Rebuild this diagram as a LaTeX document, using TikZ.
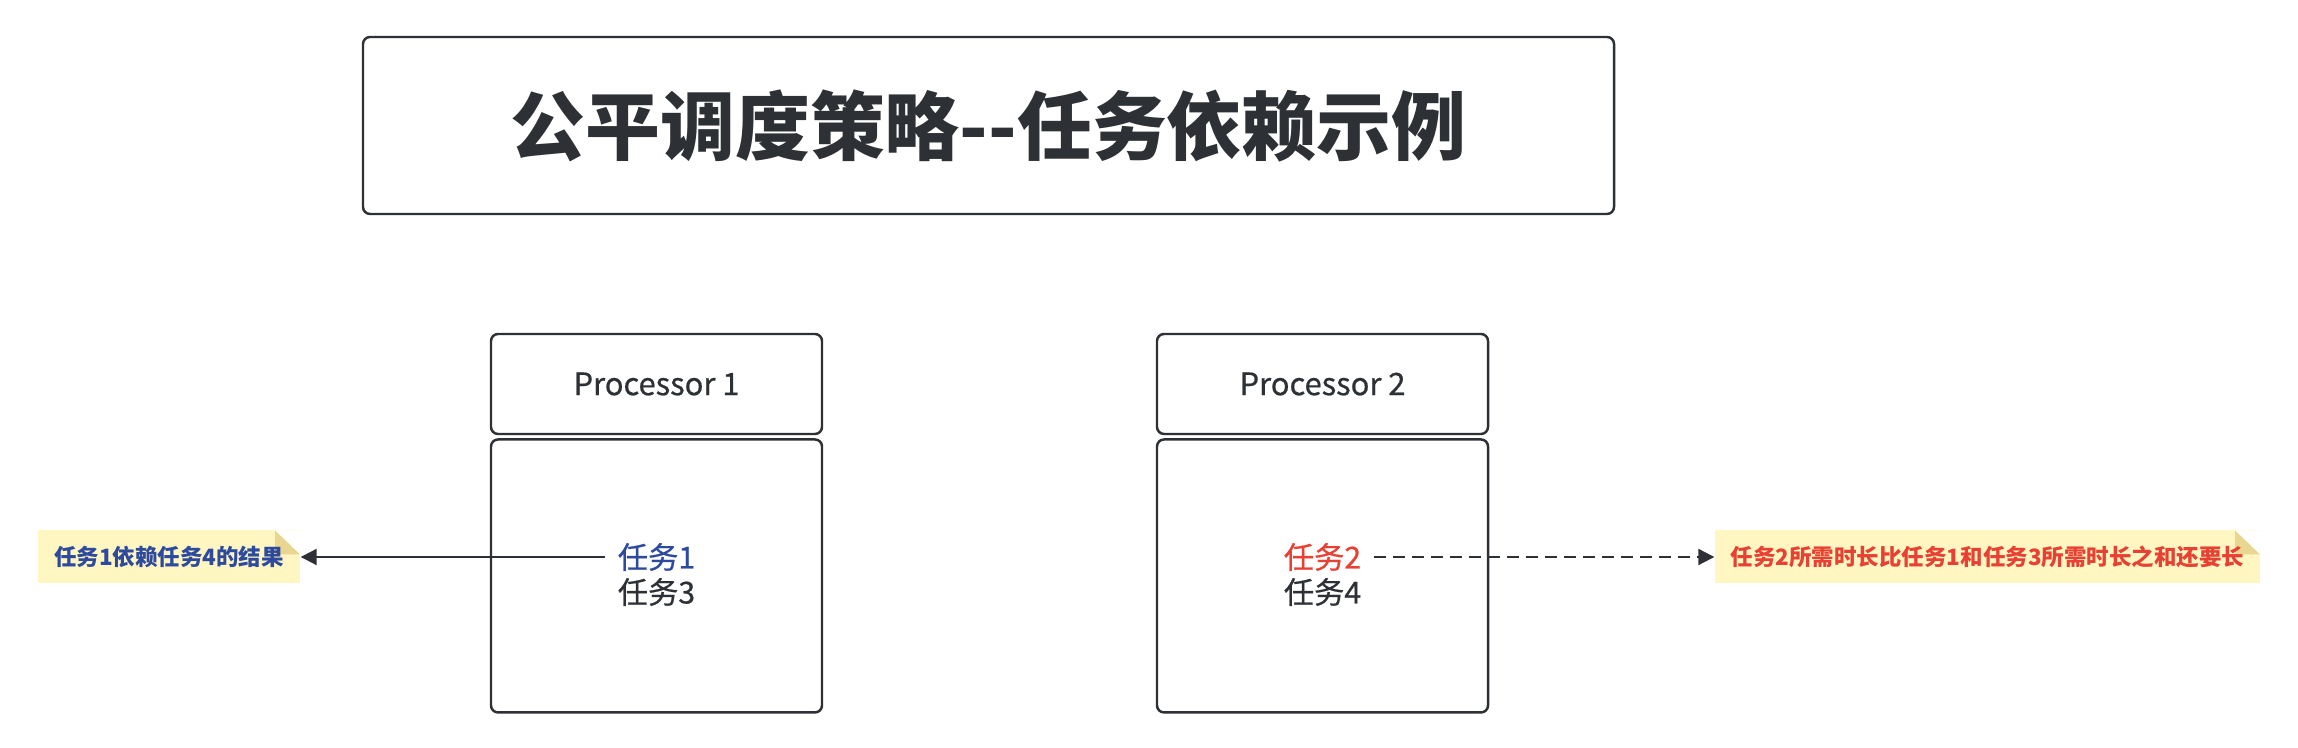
\documentclass[tikz,border=0pt]{standalone}
\usepackage{fontspec}
\setmainfont{Noto Sans CJK SC}
\newfontfamily\medfont{Noto Sans CJK SC}[FakeBold=0.6]
\usepackage{tikz}
\usetikzlibrary{arrows.meta,positioning,calc}
\definecolor{mydark}{RGB}{45,48,52}
\definecolor{myblue}{RGB}{45,74,158}
\definecolor{myred}{RGB}{232,64,50}
\definecolor{mynote}{RGB}{255,246,194}
\definecolor{myfold}{RGB}{232,214,145}

\begin{document}
\begin{tikzpicture}[
  box/.style={draw=mydark,line width=0.7pt,rounded corners=2pt,fill=white,
              minimum width=3.31cm,align=center,text=mydark},
  task/.style={font=\medfont\fontsize{8.6}{10}\selectfont,text=mydark,inner sep=0.12cm},
  note/.style={fill=mynote,minimum height=0.53cm,inner sep=0pt,
               font=\fontsize{6.4}{8}\selectfont\bfseries,
               path picture={
                 \fill[white] ($(path picture bounding box.north east)+(-0.25,0)$)
                   -- (path picture bounding box.north east) -- ++(0,-0.24) -- cycle;
                 \fill[myfold] ($(path picture bounding box.north east)+(-0.25,0)$)
                   -- ++(0,-0.24) -- ++(0.25,0) -- cycle;}},
  arr/.style={-{Triangle[length=0.16cm,width=0.16cm]},line width=0.6pt,mydark}]
  \useasboundingbox (0,0) rectangle (22.98,7.48);
  \node[box,minimum width=12.51cm,minimum height=1.77cm,
        font=\fontsize{21.3}{24}\selectfont\bfseries]
    (title) at (9.885,6.225) {公平调度策略-{}-任务依赖示例};
  % processors
  \node[box,minimum height=1.0cm,font=\medfont\fontsize{8.8}{10}\selectfont]
    (p1) at (6.565,3.64) {Processor 1};
  \node[box,minimum height=2.73cm,below=0.03cm of p1](b1){};
  \node[box,minimum height=1.0cm,font=\medfont\fontsize{8.8}{10}\selectfont]
    (p2) at (13.225,3.64) {Processor 2};
  \node[box,minimum height=2.73cm,below=0.03cm of p2](b2){};
  \node[task,text=myblue](t1) at (6.565,1.91) {任务1};
  \node[task](t3) at (6.565,1.56) {任务3};
  \node[task,text=myred](t2) at (13.225,1.91) {任务2};
  \node[task](t4) at (13.225,1.56) {任务4};
  % notes
  \node[note,minimum width=2.62cm,text=myblue](nl) at (1.69,1.91)
    {任务1依赖任务4的结果};
  \node[note,minimum width=5.45cm,text=myred](nr) at (19.875,1.91)
    {任务2所需时长比任务1和任务3所需时长之和还要长};
  \draw[arr](t1.west)--(nl.east);
  \draw[arr,dash pattern=on 0.12cm off 0.07cm](t2.east)--(nr.west);
\end{tikzpicture}
\end{document}
